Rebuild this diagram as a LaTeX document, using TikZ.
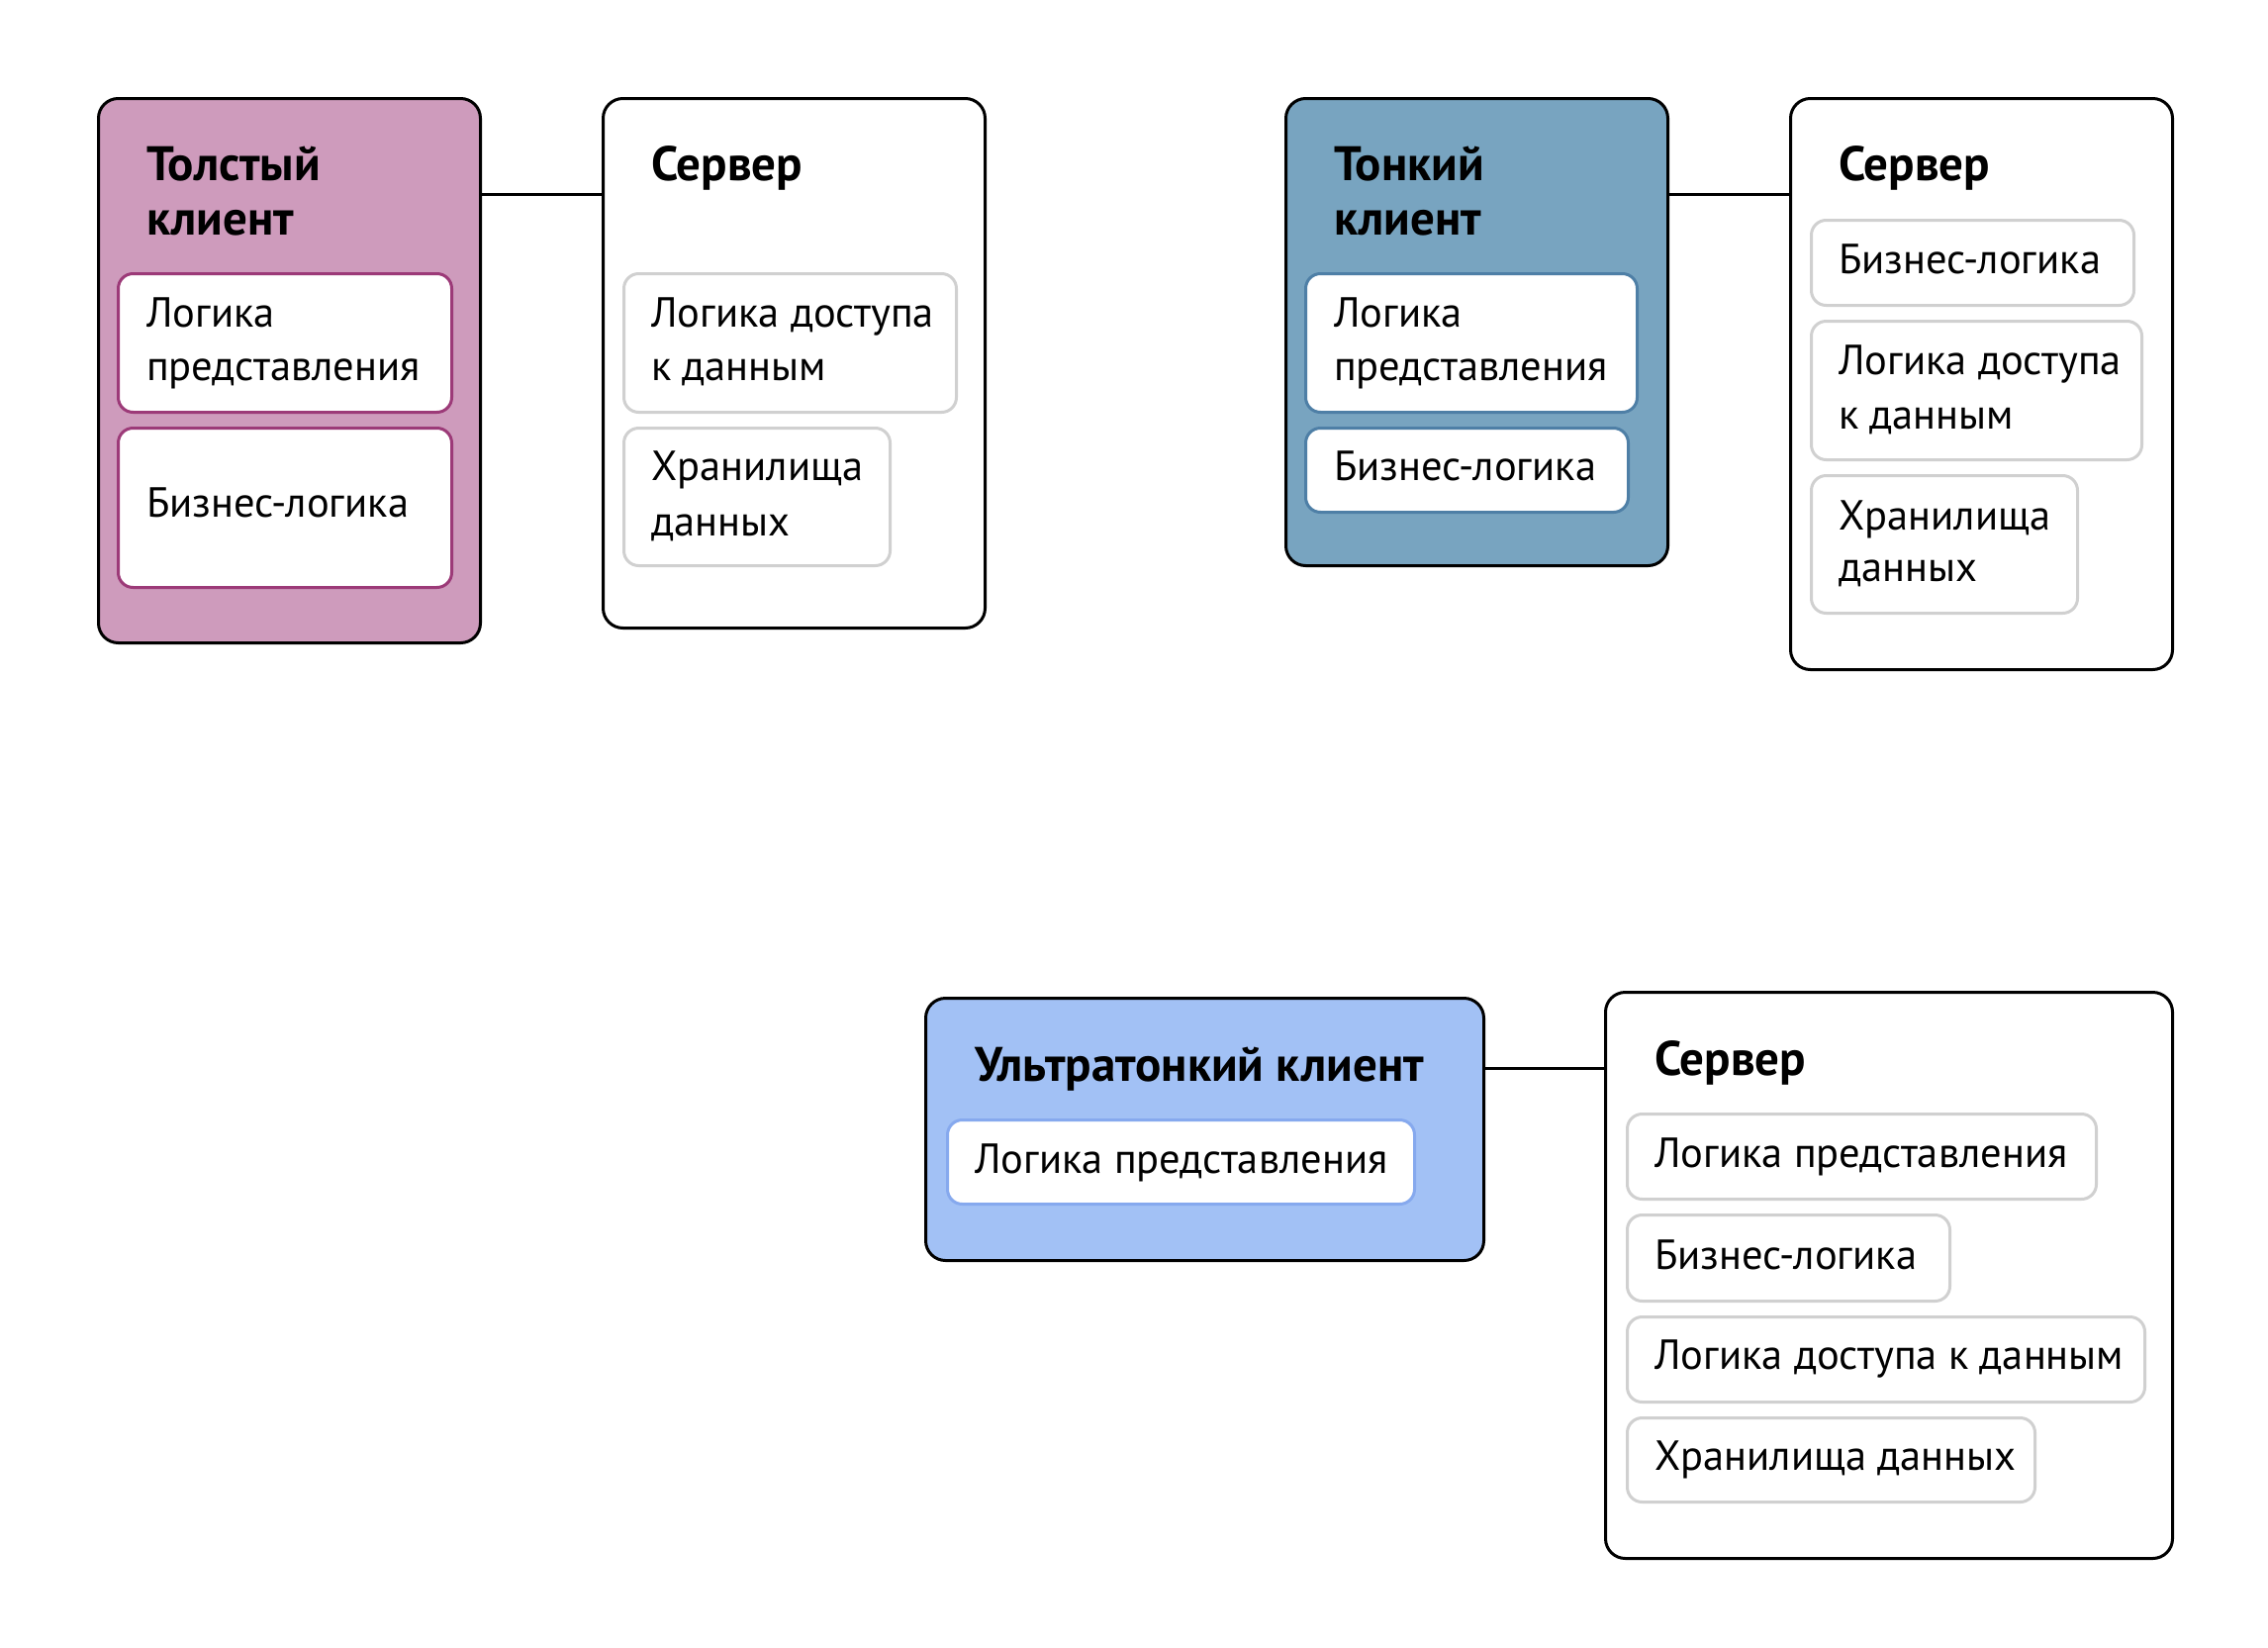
\documentclass[tikz,border=0pt]{standalone}
\usepackage{fontspec}
\setmainfont{PT Sans}
\definecolor{pinkfill}{HTML}{CE9BBC}
\definecolor{pinkline}{HTML}{9C3A78}
\definecolor{tealfill}{HTML}{78A4C0}
\definecolor{tealline}{HTML}{4E7FA6}
\definecolor{skyfill}{HTML}{A2C1F5}
\definecolor{skyline}{HTML}{86A9EE}
\definecolor{greyline}{HTML}{D0D0D0}
\tikzset{
  outerbox/.style={draw=black, line width=3pt, rounded corners=20pt, anchor=north west, inner sep=0pt},
  innerbox/.style={line width=3pt, rounded corners=15pt, fill=white, anchor=north west, inner sep=0pt},
  lbl/.style={anchor=west, inner sep=0pt, text height=0.75em, text depth=0.25em, yshift=-11pt, font=\fontsize{42.5}{48}\selectfont},
  ttl/.style={anchor=west, inner sep=0pt, text height=0.75em, text depth=0.25em, yshift=-13pt, font=\fontsize{49}{54}\selectfont\bfseries},
  link/.style={draw=black, line width=3pt}
}
\newcommand{\mybox}[6]{\node[#6, minimum width={(#4-#2)*1pt}, minimum height={(#5-#3)*1pt}] (#1) at (#2,#3) {};}
\begin{document}
\begin{tikzpicture}[x=1pt,y=-1pt]
\useasboundingbox (0,0) rectangle (2292,1665);
% ---------- Panel 1: fat client ----------
\mybox{c1}{98}{98}{484}{648}{outerbox, fill=pinkfill}
\mybox{c1a}{118}{275}{455}{415}{innerbox, draw=pinkline}
\mybox{c1b}{118}{431}{455}{592}{innerbox, draw=pinkline}
\node[ttl] (c1t1) at (148,167) {Толстый};
\node[ttl] (c1t2) at (148,222) {клиент};
\node[lbl] (c1a1) at (148,317) {Логика};
\node[lbl] (c1a2) at (148,371) {представления};
\node[lbl] (c1b1) at (148,509) {Бизнес-логика};
\mybox{s1}{608}{98}{994}{633}{outerbox, fill=white}
\mybox{s1a}{629}{275}{965}{415}{innerbox, draw=greyline}
\mybox{s1b}{629}{431}{898}{570}{innerbox, draw=greyline}
\node[ttl] (s1t) at (658,167) {Сервер};
\node[lbl] (s1a1) at (658,317) {Логика доступа};
\node[lbl] (s1a2) at (658,371) {к данным};
\node[lbl] (s1b1) at (658,472) {Хранилища};
\node[lbl] (s1b2) at (658,528) {данных};
\draw[link] (c1.east |- 0,196) -- (s1.west |- 0,196);
% ---------- Panel 2: thin client ----------
\mybox{c2}{1298}{98}{1684}{570}{outerbox, fill=tealfill}
\mybox{c2a}{1318}{275}{1653}{415}{innerbox, draw=tealline}
\mybox{c2b}{1318}{431}{1644}{516}{innerbox, draw=tealline}
\node[ttl] (c2t1) at (1348,167) {Тонкий};
\node[ttl] (c2t2) at (1348,222) {клиент};
\node[lbl] (c2a1) at (1348,317) {Логика};
\node[lbl] (c2a2) at (1348,371) {представления};
\node[lbl] (c2b1) at (1348,472) {Бизнес-логика};
\mybox{s2}{1808}{98}{2194}{675}{outerbox, fill=white}
\mybox{s2a}{1829}{221}{2155}{307}{innerbox, draw=greyline}
\mybox{s2b}{1829}{323}{2163}{463}{innerbox, draw=greyline}
\mybox{s2c}{1829}{479}{2098}{618}{innerbox, draw=greyline}
\node[ttl] (s2t) at (1858,167) {Сервер};
\node[lbl] (s2a1) at (1858,263) {Бизнес-логика};
\node[lbl] (s2b1) at (1858,365) {Логика доступа};
\node[lbl] (s2b2) at (1858,420) {к данным};
\node[lbl] (s2c1) at (1858,522) {Хранилища};
\node[lbl] (s2c2) at (1858,574) {данных};
\draw[link] (c2.east |- 0,196) -- (s2.west |- 0,196);
% ---------- Panel 3: ultra-thin client ----------
\mybox{c3}{934}{1007}{1498}{1272}{outerbox, fill=skyfill}
\mybox{c3a}{956}{1130}{1428}{1215}{innerbox, draw=skyline}
\node[ttl] (c3t) at (985,1077) {Ультратонкий клиент};
\node[lbl] (c3a1) at (985,1172) {Логика представления};
\mybox{s3}{1621}{1001}{2194}{1573}{outerbox, fill=white}
\mybox{s3a}{1643}{1124}{2117}{1210}{innerbox, draw=greyline}
\mybox{s3b}{1643}{1226}{1969}{1313}{innerbox, draw=greyline}
\mybox{s3c}{1643}{1329}{2166}{1415}{innerbox, draw=greyline}
\mybox{s3d}{1643}{1431}{2055}{1516}{innerbox, draw=greyline}
\node[ttl] (s3t) at (1672,1071) {Сервер};
\node[lbl] (s3a1) at (1672,1166) {Логика представления};
\node[lbl] (s3b1) at (1672,1269) {Бизнес-логика};
\node[lbl] (s3c1) at (1672,1370) {Логика доступа к данным};
\node[lbl] (s3d1) at (1672,1472) {Хранилища данных};
\draw[link] (c3.east |- 0,1079) -- (s3.west |- 0,1079);
\end{tikzpicture}
\end{document}
